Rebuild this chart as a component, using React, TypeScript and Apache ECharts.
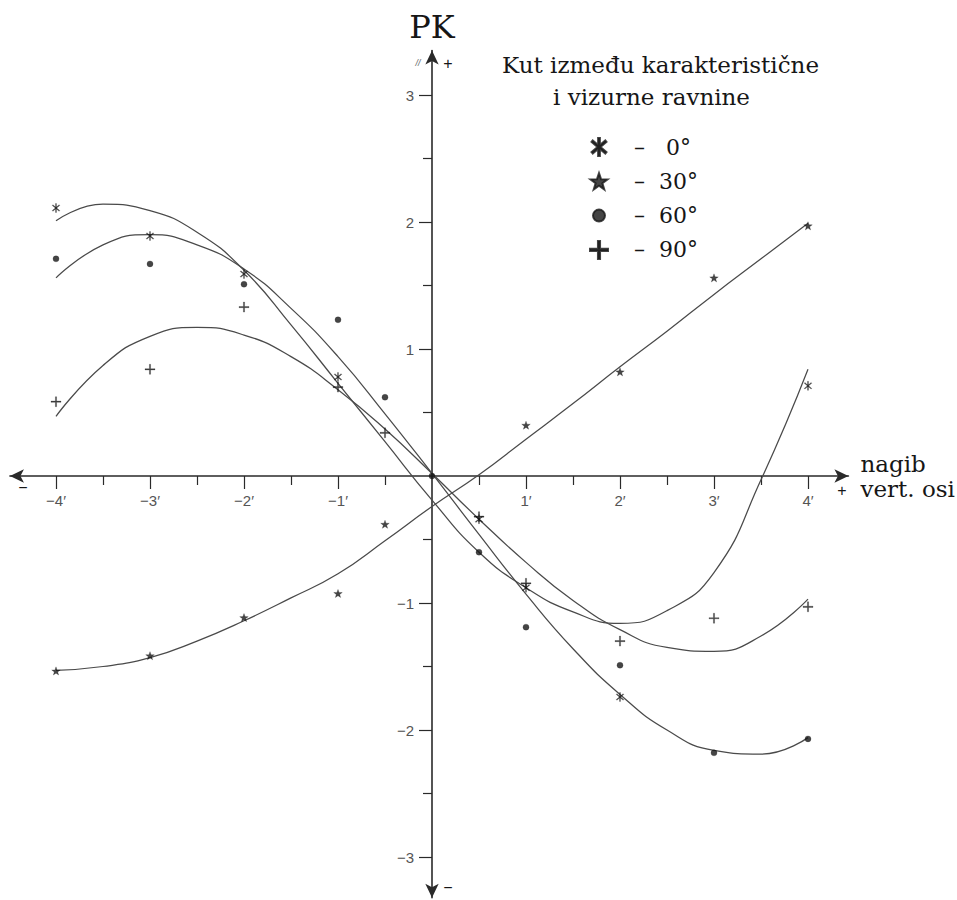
import React, { useEffect, useRef } from 'react';
import * as echarts from 'echarts';

// ---- data ----
const CURVE_X = [-4, -3.5, -3, -2.5, -2, -1.5, -1, -0.5, 0, 0.5, 1, 1.5, 2, 2.5, 3, 3.5, 4];
const CURVE_0 = [2.01, 2.14, 2.09, 1.92, 1.62, 1.19, 0.73, 0.27, -0.19, -0.6, -0.88, -1.07, -1.16, -1.06, -0.76, -0.03, 0.84];
const CURVE_30 = [-1.53, -1.5, -1.43, -1.3, -1.14, -0.96, -0.77, -0.51, -0.24, 0.01, 0.29, 0.57, 0.86, 1.14, 1.43, 1.71, 1.99];
const CURVE_60 = [1.56, 1.82, 1.9, 1.82, 1.63, 1.32, 0.94, 0.49, 0.02, -0.46, -0.93, -1.36, -1.72, -2.0, -2.16, -2.19, -2.06];
const CURVE_90 = [0.47, 0.87, 1.1, 1.17, 1.11, 0.94, 0.68, 0.37, 0.02, -0.34, -0.68, -0.98, -1.21, -1.35, -1.38, -1.26, -0.97];

const PTS_0_X = [-4, -3, -2, -1, 0.5, 1, 2, 4];
const PTS_0_Y = [2.11, 1.89, 1.59, 0.78, -0.34, -0.88, -1.74, 0.71];
const PTS_30_X = [-4, -3, -2, -1, -0.5, 1, 2, 3, 4];
const PTS_30_Y = [-1.535, -1.415, -1.115, -0.925, -0.38, 0.4, 0.82, 1.56, 1.97];
const PTS_60_X = [-4, -3, -2, -1, -0.5, 0, 0.5, 1, 2, 3, 4];
const PTS_60_Y = [1.71, 1.67, 1.51, 1.23, 0.62, 0, -0.6, -1.19, -1.49, -2.18, -2.07];
const PTS_90_X = [-4, -3, -2, -1, -0.5, 0.5, 1, 2, 3, 4];
const PTS_90_Y = [0.585, 0.84, 1.33, 0.7, 0.34, -0.32, -0.845, -1.3, -1.12, -1.03];

const SERIES_NAMES = ['0°', '30°', '60°', '90°'];
const X_TICKS = [-4, -3, -2, -1, 1, 2, 3, 4];
const X_MINOR = [-3.5, -2.5, -1.5, -0.5, 0.5, 1.5, 2.5, 3.5];
const Y_TICKS = [-3, -2, -1, 1, 2, 3];
const Y_MINOR = [-2.5, -1.5, -0.5, 0.5, 1.5, 2.5];

const X_MIN = -4.49;
const X_MAX = 4.43;
const Y_MIN = -3.32;
const Y_MAX = 3.35;

// layout (pixels)
const OX = 432;
const OY = 476;
const UX = 94;
const UY = 127;

// ---- symbols (24x24 box) ----
const ASTERISK =
  'path://M0 0M24 24M10.8 0L13.2 0L13.2 24L10.8 24ZM3.58 20.63L2.04 18.79L20.42 3.37L21.96 5.21ZM2.04 5.21L3.58 3.37L21.96 18.79L20.42 20.63Z';
const STAR =
  'path://M0 0M24 24M12 1.14L14.82 9.26L23.41 9.43L16.56 14.62L19.05 22.85L12 17.94L4.95 22.85L7.44 14.62L0.59 9.43L9.18 9.26Z';
const DOT = 'path://M0 0M24 24M4 12A8 8 0 1 0 20 12A8 8 0 1 0 4 12Z';
const PLUS = 'path://M0 0M24 24M10.6 0H13.4V10.6H24V13.4H13.4V24H10.6V13.4H0V10.6H10.6Z';

const INK = '#161616';
const CURVE_COLOR = '#4a4a4a';
const AXIS_COLOR = '#2a2a2a';
const SERIF = '"DejaVu Serif", "Liberation Serif", serif';
const SANS = '"Liberation Sans", Arial, sans-serif';

const zip = (xs: number[], ys: number[]) => xs.map((x, i) => [x, ys[i]]);
const isInt = (v: number) => Math.abs(v - Math.round(v)) < 1e-6;

export default function App() {
  const ref = useRef<HTMLDivElement>(null);
  useEffect(() => {
    if (!ref.current) return;
    const chart = echarts.init(ref.current, null, { renderer: 'svg' });

    const fmtX = (v: number) =>
      !isInt(v) || Math.round(v) === 0 ? '' : (v < 0 ? '\u2212' : '') + Math.abs(Math.round(v)) + '\u2032';
    const fmtY = (v: number) =>
      !isInt(v) || Math.round(v) === 0 ? '' : (v < 0 ? '\u2212' : '') + Math.abs(Math.round(v));

    const curve = (name: string, ys: number[]) => ({
      name,
      type: 'line',
      data: zip(CURVE_X, ys),
      smooth: 0.5,
      showSymbol: false,
      silent: true,
      lineStyle: { color: CURVE_COLOR, width: 1.25 },
      z: 2,
    });
    const pts = (name: string, xs: number[], ys: number[], symbol: string, size: number) => ({
      name,
      type: 'scatter',
      data: zip(xs, ys),
      symbol,
      symbolSize: size,
      itemStyle: { color: INK, borderColor: INK, borderWidth: 0.3 },
      z: 5,
    });

    const xOffset = Y_MIN * UY; // move x axis from grid bottom up to y = 0
    const yOffset = X_MIN * UX; // move y axis from grid left right to x = 0

    const baseX = {
      type: 'value',
      min: X_MIN,
      max: X_MAX,
      position: 'bottom',
      offset: xOffset,
      splitLine: { show: false },
    };
    const baseY = {
      type: 'value',
      min: Y_MIN,
      max: Y_MAX,
      position: 'left',
      offset: yOffset,
      splitLine: { show: false },
    };

    const option: any = {
      animation: false,
      backgroundColor: '#ffffff',
      grid: {
        left: OX + X_MIN * UX,
        right: 957 - (OX + X_MAX * UX),
        top: OY - Y_MAX * UY,
        bottom: 900 - (OY - Y_MIN * UY),
        containLabel: false,
        outerBoundsMode: 'none',
      },
      xAxis: [
        {
          ...baseX,
          splitNumber: 9,
          axisLine: {
            onZero: false,
            symbol: ['arrow', 'arrow'],
            symbolSize: [10, 14],
            lineStyle: { color: AXIS_COLOR, width: 1.6 },
          },
          axisTick: { customValues: X_TICKS, length: 13, lineStyle: { color: AXIS_COLOR, width: 1.2 } },
          axisLabel: {
            formatter: fmtX,
            showMinLabel: false,
            showMaxLabel: false,
            margin: 17,
            fontFamily: SANS,
            fontSize: 15,
            color: '#555',
          },
          name: 'nagib\nvert. osi',
          nameLocation: 'end',
          nameGap: 12,
          nameTextStyle: {
            fontFamily: SERIF,
            fontSize: 23,
            lineHeight: 25,
            color: INK,
            align: 'left',
            verticalAlign: 'middle',
          },
        },
        {
          ...baseX,
          axisLine: { show: false, onZero: false },
          axisTick: { customValues: X_MINOR, length: 9, lineStyle: { color: AXIS_COLOR, width: 1.2 } },
          axisLabel: { show: false },
        },
      ],
      yAxis: [
        {
          ...baseY,
          splitNumber: 7,
          axisLine: {
            onZero: false,
            symbol: ['arrow', 'arrow'],
            symbolSize: [10, 14],
            lineStyle: { color: AXIS_COLOR, width: 1.6 },
          },
          axisTick: { customValues: Y_TICKS, length: 13, lineStyle: { color: AXIS_COLOR, width: 1.2 } },
          axisLabel: {
            formatter: fmtY,
            showMinLabel: false,
            showMaxLabel: false,
            margin: 18,
            fontFamily: SANS,
            fontSize: 15,
            color: '#555',
          },
          name: 'PK',
          nameLocation: 'end',
          nameGap: 8,
          nameTextStyle: { fontFamily: SERIF, fontSize: 32, color: INK, align: 'center' },
        },
        {
          ...baseY,
          axisLine: { show: false, onZero: false },
          axisTick: { customValues: Y_MINOR, length: 9, lineStyle: { color: AXIS_COLOR, width: 1.2 } },
          axisLabel: { show: false },
        },
      ],
      legend: {
        data: [
          { name: SERIES_NAMES[0], icon: ASTERISK },
          { name: SERIES_NAMES[1], icon: STAR },
          { name: SERIES_NAMES[2], icon: DOT },
          { name: SERIES_NAMES[3], icon: PLUS },
        ],
        orient: 'vertical',
        left: 589,
        top: 135,
        padding: 0,
        itemWidth: 18,
        itemHeight: 18,
        itemGap: 10.3,
        selectedMode: false,
        formatter: (name: string) =>
          '\u00a0\u00a0\u00a0\u2013\u00a0\u00a0' + (name.length < 3 ? '\u2008' : '') + name,
        textStyle: { fontFamily: SERIF, fontSize: 22, lineHeight: 24, color: INK },
      },
      graphic: [
        { type: 'text', left: 502, top: 53, style: { text: 'Kut između karakteristične', font: `23px ${SERIF}`, fill: INK } },
        { type: 'text', left: 553, top: 85, style: { text: 'i vizurne ravnine', font: `23px ${SERIF}`, fill: INK } },
        { type: 'text', x: 448, y: 63, style: { text: '+', font: `16px ${SANS}`, fill: INK, align: 'center', verticalAlign: 'middle' } },
        { type: 'text', x: 418, y: 63, style: { text: '//', font: `italic 9px ${SANS}`, fill: '#666', align: 'center', verticalAlign: 'middle' } },
        { type: 'text', x: 448, y: 887, style: { text: '\u2212', font: `16px ${SANS}`, fill: INK, align: 'center', verticalAlign: 'middle' } },
        { type: 'text', x: 23, y: 487, style: { text: '\u2212', font: `16px ${SANS}`, fill: INK, align: 'center', verticalAlign: 'middle' } },
        { type: 'text', x: 842, y: 490, style: { text: '+', font: `16px ${SANS}`, fill: INK, align: 'center', verticalAlign: 'middle' } },
      ],
      series: [
        curve('c0', CURVE_0),
        curve('c30', CURVE_30),
        curve('c60', CURVE_60),
        curve('c90', CURVE_90),
        pts(SERIES_NAMES[0], PTS_0_X, PTS_0_Y, ASTERISK, 9),
        pts(SERIES_NAMES[1], PTS_30_X, PTS_30_Y, STAR, 9),
        pts(SERIES_NAMES[3], PTS_90_X, PTS_90_Y, PLUS, 10),
        pts(SERIES_NAMES[2], PTS_60_X, PTS_60_Y, DOT, 9),
      ],
    };
    chart.setOption(option);
    return () => chart.dispose();
  }, []);
  return <div ref={ref} style={{ position: 'absolute', left: 0, top: 0, width: 957, height: 900, background: '#fff' }} />;
}
